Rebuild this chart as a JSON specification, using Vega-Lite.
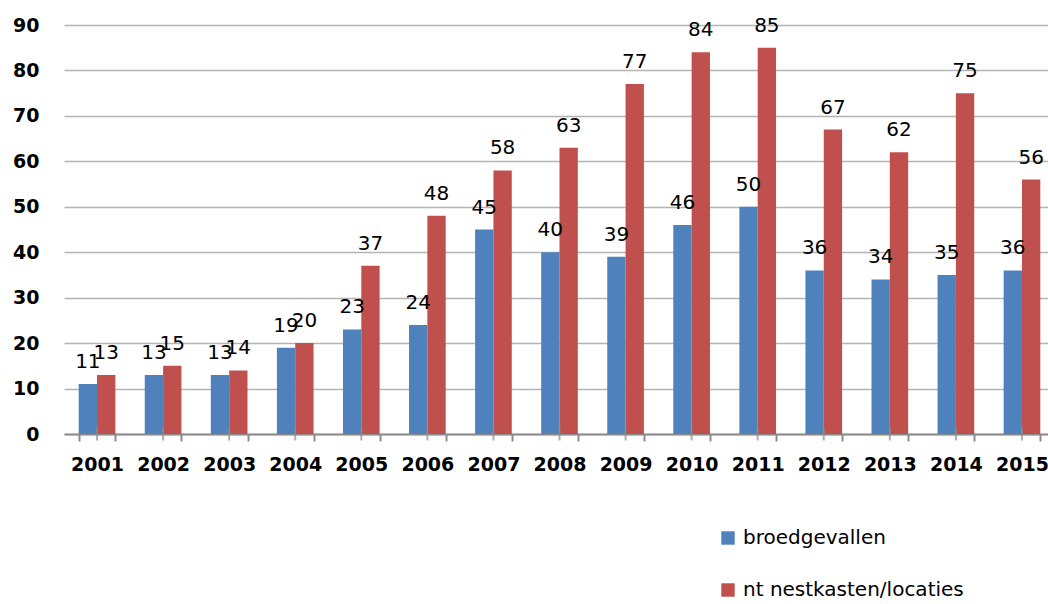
{
  "$schema": "https://vega.github.io/schema/vega-lite/v6.json",
  "autosize": {"type": "none"},
  "width": 984,
  "height": 409,
  "padding": {"left": 64, "top": 25, "right": 0, "bottom": 170},
  "background": "white",
  "config": {"view": {"stroke": null}, "font": "DejaVu Sans"},
  "data": {"values": [
    {"year": "2001", "series": "broedgevallen", "value": 11},
    {"year": "2002", "series": "broedgevallen", "value": 13},
    {"year": "2003", "series": "broedgevallen", "value": 13},
    {"year": "2004", "series": "broedgevallen", "value": 19},
    {"year": "2005", "series": "broedgevallen", "value": 23},
    {"year": "2006", "series": "broedgevallen", "value": 24},
    {"year": "2007", "series": "broedgevallen", "value": 45},
    {"year": "2008", "series": "broedgevallen", "value": 40},
    {"year": "2009", "series": "broedgevallen", "value": 39},
    {"year": "2010", "series": "broedgevallen", "value": 46},
    {"year": "2011", "series": "broedgevallen", "value": 50},
    {"year": "2012", "series": "broedgevallen", "value": 36},
    {"year": "2013", "series": "broedgevallen", "value": 34},
    {"year": "2014", "series": "broedgevallen", "value": 35},
    {"year": "2015", "series": "broedgevallen", "value": 36},
    {"year": "2001", "series": "nt nestkasten/locaties", "value": 13},
    {"year": "2002", "series": "nt nestkasten/locaties", "value": 15},
    {"year": "2003", "series": "nt nestkasten/locaties", "value": 14},
    {"year": "2004", "series": "nt nestkasten/locaties", "value": 20},
    {"year": "2005", "series": "nt nestkasten/locaties", "value": 37},
    {"year": "2006", "series": "nt nestkasten/locaties", "value": 48},
    {"year": "2007", "series": "nt nestkasten/locaties", "value": 58},
    {"year": "2008", "series": "nt nestkasten/locaties", "value": 63},
    {"year": "2009", "series": "nt nestkasten/locaties", "value": 77},
    {"year": "2010", "series": "nt nestkasten/locaties", "value": 84},
    {"year": "2011", "series": "nt nestkasten/locaties", "value": 85},
    {"year": "2012", "series": "nt nestkasten/locaties", "value": 67},
    {"year": "2013", "series": "nt nestkasten/locaties", "value": 62},
    {"year": "2014", "series": "nt nestkasten/locaties", "value": 75},
    {"year": "2015", "series": "nt nestkasten/locaties", "value": 56}
  ]},
  "encoding": {
    "x": {
      "field": "year", "type": "ordinal",
      "scale": {"range": [0, 991], "paddingInner": 0.445, "paddingOuter": 0.2225},
      "axis": {
        "title": null, "labelAngle": 0, "labelFont": "DejaVu Sans", "labelFontSize": 19,
        "labelFontWeight": "bold", "labelColor": "#000000", "labelPadding": 14,
        "domainColor": "#8c8c8c", "domainWidth": 2, "tickColor": "#8c8c8c", "tickWidth": 2,
        "tickSize": 7, "tickBand": "extent", "grid": false
      }
    },
    "y": {
      "field": "value", "type": "quantitative",
      "scale": {"domain": [0, 90], "nice": false},
      "axis": {
        "title": null, "values": [0, 10, 20, 30, 40, 50, 60, 70, 80, 90],
        "labelFont": "DejaVu Sans", "labelFontSize": 19, "labelFontWeight": "bold",
        "labelColor": "#000000", "labelPadding": 25, "domain": false, "ticks": false,
        "gridColor": "#b3b3b3", "gridWidth": 1.5
      }
    }
  },
  "layer": [
    {
      "mark": {"type": "bar"},
      "encoding": {
        "xOffset": {"field": "series", "type": "nominal", "scale": {"paddingInner": 0, "paddingOuter": 0}},
        "color": {
          "field": "series", "type": "nominal",
          "scale": {"domain": ["broedgevallen", "nt nestkasten/locaties"], "range": ["#4F81BD", "#C0504D"]},
          "legend": {
            "title": null, "orient": "none", "legendX": 654, "legendY": 503,
            "direction": "vertical", "symbolType": "square", "symbolSize": 180,
            "symbolStrokeWidth": 0, "labelFont": "DejaVu Sans", "labelFontSize": 20,
            "labelColor": "#000000", "rowPadding": 32, "labelOffset": 5, "labelLimit": 0
          }
        }
      }
    },
    {
      "mark": {"type": "text", "font": "DejaVu Sans", "fontSize": 20, "color": "#000000", "baseline": "alphabetic", "dy": -16},
      "encoding": {
        "xOffset": {"field": "series", "type": "nominal", "scale": {"paddingInner": 0, "paddingOuter": 0}},
        "text": {"field": "value", "type": "quantitative"}
      }
    },
    {
      "transform": [{"filter": "datum.series == 'broedgevallen'"}],
      "mark": {"type": "tick", "orient": "vertical", "color": "#8c8c8c", "thickness": 2, "size": 13},
      "encoding": {"y": {"datum": 0}}
    }
  ]
}
